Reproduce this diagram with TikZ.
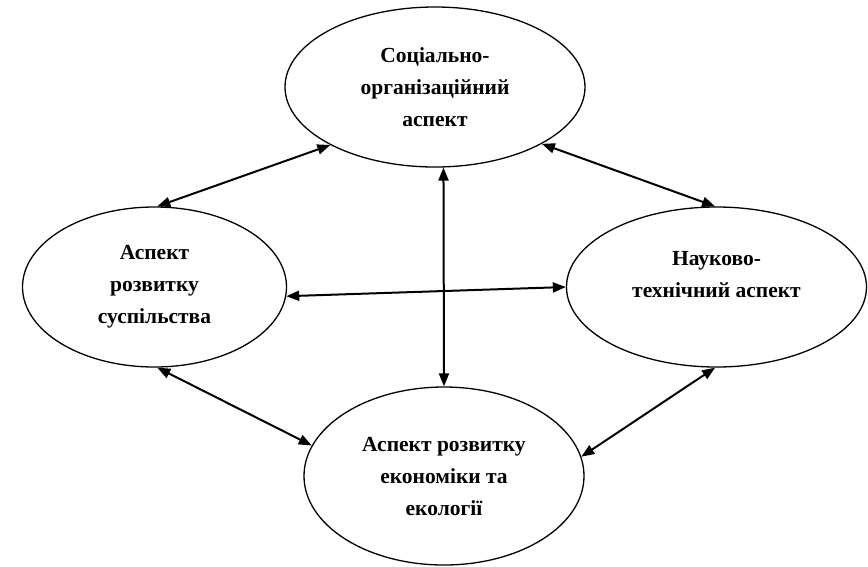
\documentclass[tikz,border=0pt]{standalone}
\usepackage{fontspec}
\setmainfont{Liberation Serif}
\usetikzlibrary{shapes.geometric,arrows.meta}
\begin{document}
\begin{tikzpicture}[x=1pt,y=-1pt,
  asp/.style={ellipse, draw, line width=1.3pt, inner sep=0pt, align=center,
    font=\bfseries\fontsize{21.5}{32}\selectfont},
  link/.style={line width=2pt,
    {Triangle[length=13pt,width=10pt]}-{Triangle[length=13pt,width=10pt]}}]
\useasboundingbox (0,0) rectangle (868,566);
\node[asp, minimum width=300pt, minimum height=160pt] (soc) at (435,87)
  {Соціально-\\організаційний\\аспект};
\node[asp, minimum width=264pt, minimum height=160pt] (soz) at (154.5,287)
  {Аспект\\розвитку\\суспільства};
\node[asp, minimum width=300pt, minimum height=160pt] (nauk) at (716.5,287)
  {Науково-\\технічний аспект\\[-7pt]\mbox{}};
\node[asp, minimum width=280pt, minimum height=178pt] (eko) at (444,476)
  {Аспект розвитку\\економіки та\\екології};
\draw[link] (soc.209) -- (soz.88);
\draw[link] (soc.332) -- (nauk.91);
\draw[link] (soc.276) -- (eko.90);
\draw[link] (soz.356) -- (nauk.180.5);
\draw[link] (soz.272) -- (eko.167);
\draw[link] (nauk.269) -- (eko.8);
\end{tikzpicture}
\end{document}
